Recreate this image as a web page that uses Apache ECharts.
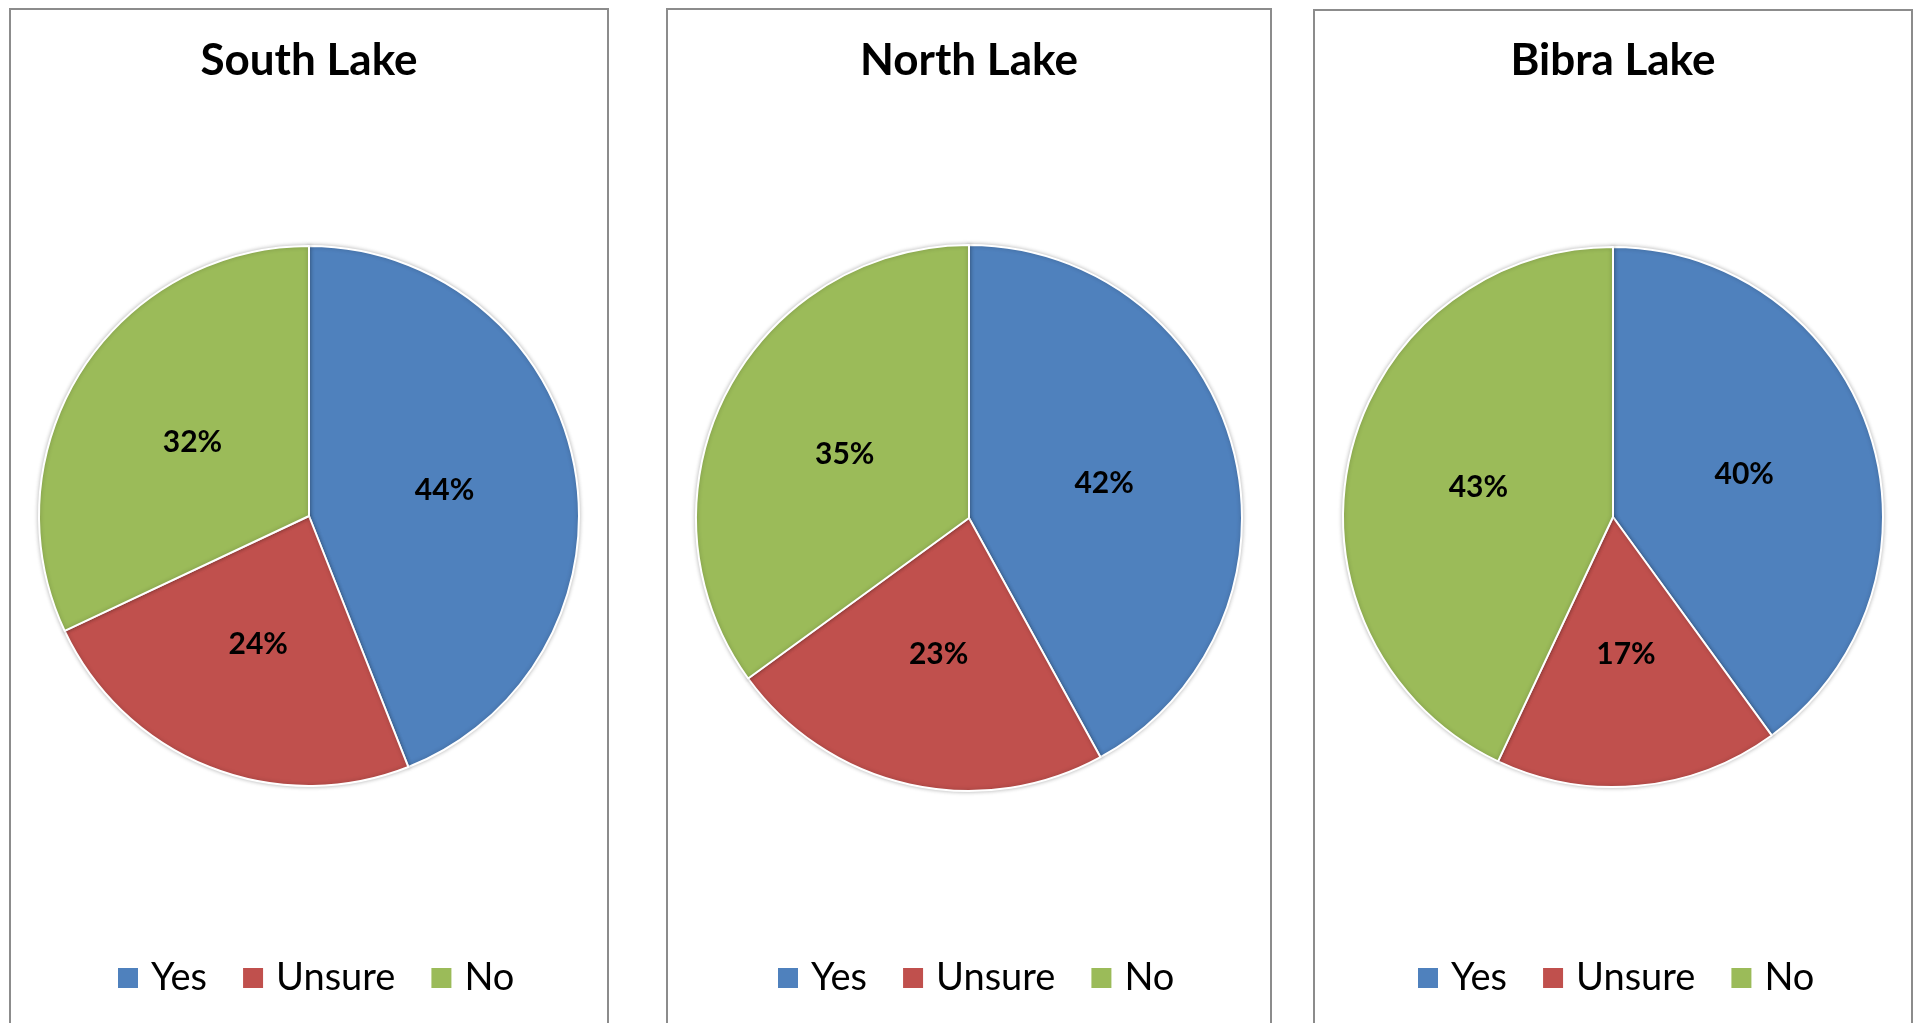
<!DOCTYPE html>
<html>
<head>
<meta charset="utf-8">
<title>Lake survey responses</title>
<script src="https://cdn.jsdelivr.net/npm/echarts@6/dist/echarts.min.js"></script>
<style>
  html, body { margin: 0; padding: 0; background: #ffffff; }
  #chart { width: 1914px; height: 1023px; }
</style>
</head>
<body>
<div id="chart"></div>
<script>
// Survey answers per lake (percent of respondents)
const lakes = ['South Lake', 'North Lake', 'Bibra Lake'];
const answers = ['Yes', 'Unsure', 'No'];
const southLake = [44, 24, 32];
const northLake = [42, 23, 35];
const bibraLake = [40, 17, 43];
const lakeValues = [southLake, northLake, bibraLake];

const colors = ['#4F81BD', '#C0504D', '#9BBB59'];
const fontFamily = 'Lato, "Open Sans", sans-serif';

// Panel frames and per-panel placement
const panels = [
  { x: 10, w: 598, top: 9, cx: 309, cy: 516, r: 270, legendLeft: 111 },
  { x: 667, w: 604, top: 9, cx: 969, cy: 518, r: 273, legendLeft: 771 },
  { x: 1314, w: 598, top: 10, cx: 1613, cy: 517, r: 270, legendLeft: 1411 }
];

const chart = echarts.init(document.getElementById('chart'), null, { renderer: 'canvas' });

const option = {
  animation: false,
  color: colors,
  graphic: panels.map(p => ({
    type: 'rect',
    silent: true,
    z: -10,
    shape: { x: p.x, y: p.top, width: p.w, height: 1100 },
    style: { fill: '#ffffff', stroke: '#8c8c8c', lineWidth: 2 }
  })),
  title: lakes.map((name, i) => ({
    text: name,
    left: panels[i].cx - 5,
    top: 34,
    textAlign: 'center',
    textStyle: { fontFamily, fontWeight: 'bold', fontSize: 44, color: '#000' }
  })),
  legend: panels.map(p => ({
    data: answers,
    left: p.legendLeft,
    top: 954,
    orient: 'horizontal',
    itemWidth: 22,
    itemHeight: 22,
    itemGap: 34,
    icon: 'rect',
    selectedMode: false,
    textStyle: { fontFamily, fontSize: 38, color: '#000', padding: [0, 0, 0, 7] }
  })),
  series: lakes.map((name, i) => ({
    type: 'pie',
    name,
    center: [panels[i].cx, panels[i].cy],
    radius: [0, panels[i].r],
    startAngle: 90,
    clockwise: true,
    avoidLabelOverlap: false,
    label: {
      show: true,
      position: 'inside',
      formatter: '{c}%',
      fontFamily,
      fontWeight: 'bold',
      fontSize: 30,
      color: '#000'
    },
    labelLine: { show: false },
    emphasis: { disabled: true },
    itemStyle: {
      borderColor: '#ffffff',
      borderWidth: 2,
      shadowBlur: 4,
      shadowColor: 'rgba(0,0,0,0.25)'
    },
    data: answers.map((a, j) => ({ name: a, value: lakeValues[i][j] }))
  }))
};

chart.setOption(option);
</script>
</body>
</html>
